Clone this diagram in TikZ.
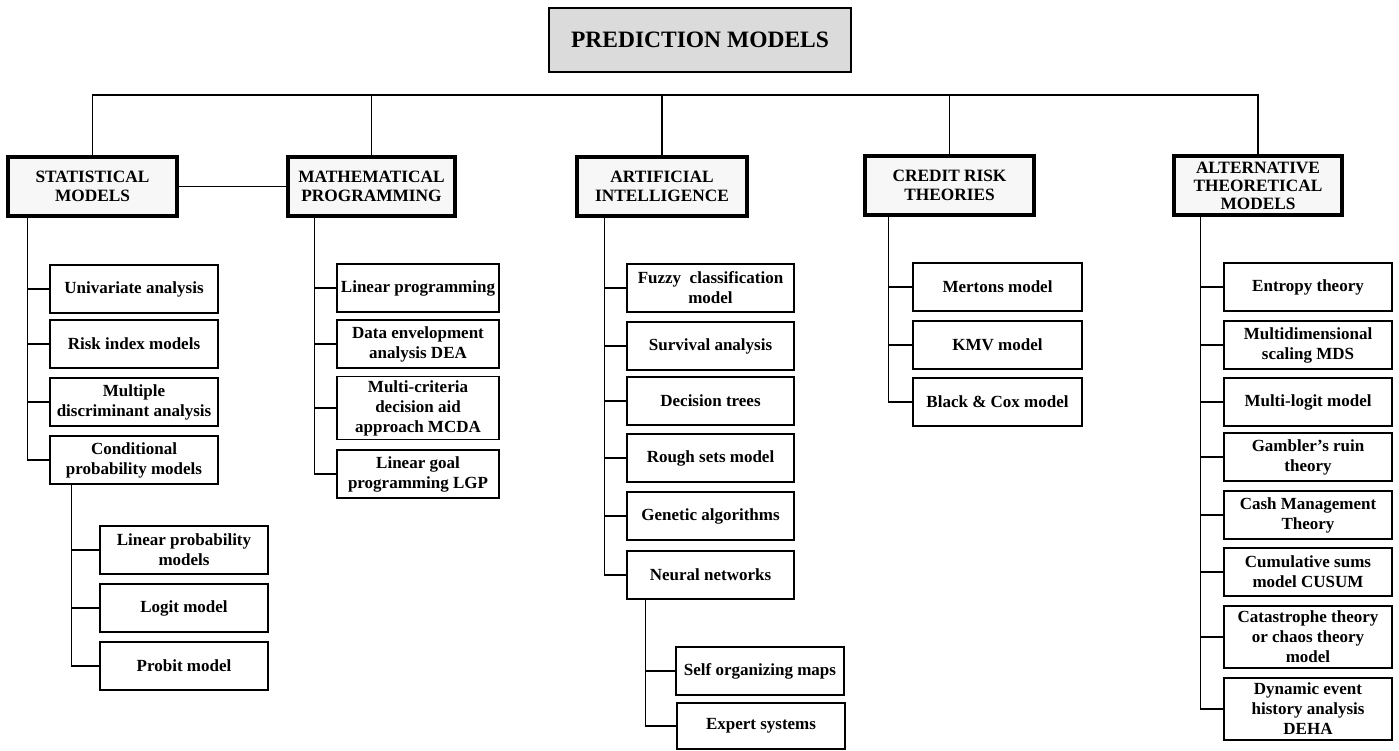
\documentclass[tikz,border=0pt]{standalone}
\usepackage{fontspec}
\setmainfont{Liberation Serif}
\tikzset{
  title/.style={draw, line width=2.8pt, fill=gray!28, minimum width=302pt, minimum height=64pt, inner sep=0pt, font=\fontsize{23.5}{26}\selectfont\bfseries},
  category/.style={draw, line width=3.2pt, fill=gray!6, minimum height=59pt, inner sep=0pt, align=center, font=\fontsize{17.3}{19.5}\selectfont\bfseries},
  leaf/.style={draw, line width=1.8pt, minimum height=48pt, inner sep=0pt, align=center, font=\fontsize{17}{20}\selectfont\bfseries},
  link/.style={line width=1.2pt}
}
\begin{document}
\begin{tikzpicture}[x=1pt,y=-1pt]
\useasboundingbox (0,0) rectangle (1399,751);
\node[title] (pm) at (700,40) {PREDICTION MODELS};
\coordinate (bar) at (0,95);
\node[category, minimum width=169pt] (stat) at (92.5,186.5) {STATISTICAL\\MODELS};
\node[category, minimum width=167pt] (math) at (371.5,186.5) {MATHEMATICAL\\PROGRAMMING};
\node[category, minimum width=170pt] (ai) at (662,186.5) {ARTIFICIAL\\INTELLIGENCE};
\node[category, minimum width=169pt] (cred) at (949.5,185.5) {CREDIT RISK\\THEORIES};
\node[category, minimum width=168pt] (alt) at (1258,185.5) {ALTERNATIVE\\[-1.5pt]THEORETICAL\\[-1.5pt]MODELS};
\draw[link] (stat.north) -- (stat.north |- bar) -- (alt.north |- bar) -- (alt.north);
\foreach \c in {math,ai,cred}
  \draw[link] (\c.north) -- (\c.north |- bar);
\draw[link] (stat) -- (math);
% statistical models
\node[leaf, minimum width=168pt] (su1) at (134,289) {Univariate analysis};
\node[leaf, minimum width=168pt] (su2) at (134,344) {Risk index models};
\node[leaf, minimum width=168pt] (su3) at (134,402) {Multiple\\discriminant analysis};
\node[leaf, minimum width=168pt] (su4) at (134,460) {Conditional\\probability models};
\node[leaf, minimum width=168pt] (sp1) at (184,550) {Linear probability\\models};
\node[leaf, minimum width=168pt] (sp2) at (184,608) {Logit model};
\node[leaf, minimum width=168pt] (sp3) at (184,666) {Probit model};
\foreach \n in {su1,su2,su3,su4}
  \draw[link] ([xshift=21pt]stat.south west) |- (\n.west);
\foreach \n in {sp1,sp2,sp3}
  \draw[link] ([xshift=22pt]su4.south west) |- (\n.west);
% mathematical programming
\node[leaf, minimum width=162pt] (mp1) at (418,288) {Linear programming};
\node[leaf, minimum width=162pt] (mp2) at (418,344) {Data envelopment\\analysis DEA};
\node[leaf, minimum width=162pt, minimum height=63pt] (mp3) at (418,408) {Multi-criteria\\decision aid\\approach MCDA};
\node[leaf, minimum width=162pt] (mp4) at (418,474) {Linear goal\\programming LGP};
\foreach \n in {mp1,mp2,mp3,mp4}
  \draw[link] ([xshift=28pt]math.south west) |- (\n.west);
% artificial intelligence
\node[leaf, minimum width=167pt] (ai1) at (710.5,288) {Fuzzy~ classification\\model};
\node[leaf, minimum width=167pt] (ai2) at (710.5,346) {Survival analysis};
\node[leaf, minimum width=167pt] (ai3) at (710.5,401) {Decision trees};
\node[leaf, minimum width=167pt] (ai4) at (710.5,458) {Rough sets model};
\node[leaf, minimum width=167pt] (ai5) at (710.5,516) {Genetic algorithms};
\node[leaf, minimum width=167pt] (ai6) at (710.5,575) {Neural networks};
\node[leaf, minimum width=168pt] (an1) at (760,671) {Self organizing maps};
\node[leaf, minimum width=168pt, minimum height=46pt] (an2) at (761,726) {Expert systems};
\foreach \n in {ai1,ai2,ai3,ai4,ai5,ai6}
  \draw[link] ([xshift=29pt]ai.south west) |- (\n.west);
\foreach \n in {an1,an2}
  \draw[link] ([xshift=19pt]ai6.south west) |- (\n.west);
% credit risk theories
\node[leaf, minimum width=169pt] (cr1) at (997.5,287) {Mertons model};
\node[leaf, minimum width=169pt] (cr2) at (997.5,345) {KMV model};
\node[leaf, minimum width=169pt] (cr3) at (997.5,402) {Black \& Cox model};
\foreach \n in {cr1,cr2,cr3}
  \draw[link] ([xshift=25pt]cred.south west) |- (\n.west);
% alternative theoretical models
\node[leaf, minimum width=168pt] (al1) at (1308,287) {Entropy theory};
\node[leaf, minimum width=168pt] (al2) at (1308,345) {Multidimensional\\scaling MDS};
\node[leaf, minimum width=168pt] (al3) at (1308,402) {Multi-logit model};
\node[leaf, minimum width=168pt] (al4) at (1308,457) {Gambler’s ruin\\theory};
\node[leaf, minimum width=168pt] (al5) at (1308,515) {Cash Management\\Theory};
\node[leaf, minimum width=168pt] (al6) at (1308,572) {Cumulative sums\\model CUSUM};
\node[leaf, minimum width=168pt, minimum height=62pt] (al7) at (1308,637) {Catastrophe theory\\or chaos theory\\model};
\node[leaf, minimum width=168pt, minimum height=62pt] (al8) at (1308,709) {Dynamic event\\history analysis\\DEHA};
\foreach \n in {al1,al2,al3,al4,al5,al6,al7,al8}
  \draw[link] ([xshift=28pt]alt.south west) |- (\n.west);
\end{tikzpicture}
\end{document}
